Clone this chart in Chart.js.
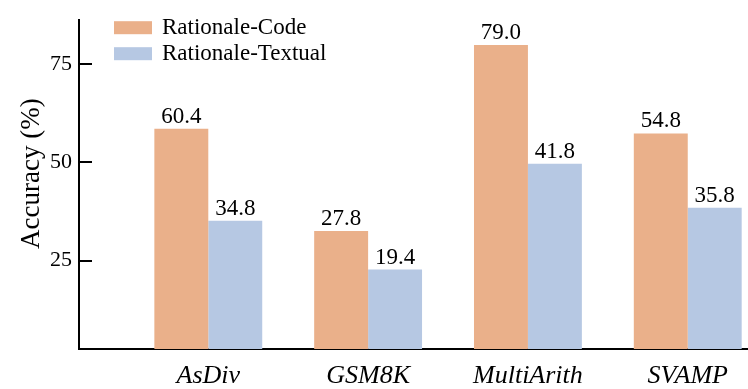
<!DOCTYPE html>
<html>
<head>
<meta charset="utf-8">
<script src="https://cdn.jsdelivr.net/npm/chart.js@4.4.1/dist/chart.umd.min.js"></script>
<style>
  html, body { margin: 0; padding: 0; background: #fff; overflow: hidden; }
  #wrap { width: 748px; height: 389px; }
  .preload { position: absolute; left: -999px; top: 0; font-family: "Liberation Serif"; }
</style>
</head>
<body>
<span class="preload">Aa</span><span class="preload" style="font-style:italic">Aa</span>
<div id="wrap"><canvas id="chart" width="748" height="389"></canvas></div>
<script>
// data
const categories = ['AsDiv', 'GSM8K', 'MultiArith', 'SVAMP'];
const seriesNames = ['Rationale-Code', 'Rationale-Textual'];
// bar heights as they are drawn
const codeValues = [58.5, 32.5, 79.8, 57.3];
const textualValues = [35.1, 22.7, 49.6, 38.4];
// numbers printed above the bars
const codeLabels = ['60.4', '27.8', '79.0', '54.8'];
const textualLabels = ['34.8', '19.4', '41.8', '35.8'];
const yTicks = [25, 50, 75];
const yTitle = 'Accuracy (%)';

const colors = ['#EAB08A', '#B6C8E3'];
const serif = "'Liberation Serif', 'DejaVu Serif', serif";

// labels on top of bars
const barLabels = {
    id: 'barLabels',
    afterDatasetsDraw(chart) {
        const ctx = chart.ctx;
        const texts = [codeLabels, textualLabels];
        ctx.save();
        ctx.font = '23px ' + serif;
        ctx.fillStyle = '#000';
        ctx.textAlign = 'center';
        ctx.textBaseline = 'alphabetic';
        chart.data.datasets.forEach(function(ds, d) {
            chart.getDatasetMeta(d).data.forEach(function(bar, i) {
                ctx.fillText(texts[d][i], bar.x, bar.y - 6);
            });
        });
        ctx.restore();
    }
};

// inward y ticks, y title and legend in the top left corner
const extras = {
    id: 'extras',
    afterDraw(chart) {
        const ctx = chart.ctx;
        const area = chart.chartArea;
        const y = chart.scales.y;
        ctx.save();
        ctx.strokeStyle = '#000';
        ctx.lineWidth = 2;
        yTicks.forEach(function(t) {
            const py = Math.round(y.getPixelForValue(t));
            ctx.beginPath();
            ctx.moveTo(area.left, py);
            ctx.lineTo(area.left + 13, py);
            ctx.stroke();
        });

        // axis title, a bit above the middle like the original
        ctx.save();
        ctx.translate(area.left - 47, (area.top + area.bottom) / 2 - 11);
        ctx.rotate(-Math.PI / 2);
        ctx.font = '27px ' + serif;
        ctx.fillStyle = '#000';
        ctx.textAlign = 'center';
        ctx.textBaseline = 'middle';
        ctx.fillText(yTitle, 0, 0);
        ctx.restore();

        ctx.font = '23px ' + serif;
        ctx.textBaseline = 'middle';
        ctx.textAlign = 'left';
        seriesNames.forEach(function(name, k) {
            const top = area.top + 1 + k * 26;
            ctx.fillStyle = colors[k];
            ctx.fillRect(area.left + 35, top, 38, 13);
            ctx.fillStyle = '#000';
            ctx.fillText(name, area.left + 83, top + 7);
        });
        ctx.restore();
    }
};

function drawChart() {
    Chart.defaults.color = '#000';
    Chart.defaults.font.family = serif;

    const ctx = document.getElementById('chart').getContext('2d');
    new Chart(ctx, {
        type: 'bar',
        data: {
            datasets: [{
                label: seriesNames[0],
                data: categories.map((c, i) => ({ x: i, y: codeValues[i] })),
                backgroundColor: colors[0],
                borderWidth: 0
            }, {
                label: seriesNames[1],
                data: categories.map((c, i) => ({ x: i, y: textualValues[i] })),
                backgroundColor: colors[1],
                borderWidth: 0
            }]
        },
        options: {
            responsive: false,
            animation: false,
            devicePixelRatio: 1,
            categoryPercentage: 0.675,
            barPercentage: 1,
            layout: { padding: { top: 12, right: 0, left: 0, bottom: 0 } },
            plugins: {
                legend: { display: false },
                tooltip: { enabled: false }
            },
            scales: {
                x: {
                    type: 'linear',
                    offset: false,
                    min: -0.809,
                    max: 3.377,
                    afterBuildTicks: function(scale) {
                        scale.ticks = categories.map((c, i) => ({ value: i }));
                    },
                    afterFit: function(scale) { scale.height = 40; },
                    grid: { drawOnChartArea: false, drawTicks: false },
                    border: { display: true, color: '#000', width: 2 },
                    ticks: {
                        padding: 12,
                        autoSkip: false,
                        maxRotation: 0,
                        font: { size: 26, style: 'italic', family: serif },
                        callback: function(v) { return categories[v]; }
                    }
                },
                y: {
                    min: 2.5,
                    max: 86.1,
                    afterBuildTicks: function(scale) {
                        scale.ticks = yTicks.map(v => ({ value: v }));
                    },
                    afterFit: function(scale) { scale.width = 79; },
                    grid: { drawOnChartArea: false, drawTicks: false },
                    border: { display: true, color: '#000', width: 2 },
                    ticks: {
                        padding: 7,
                        font: { size: 22, family: serif }
                    }
                }
            }
        },
        plugins: [barLabels, extras]
    });
}

Promise.all([
    document.fonts.load("22px 'Liberation Serif'"),
    document.fonts.load("italic 26px 'Liberation Serif'")
]).then(drawChart, drawChart);
</script>
</body>
</html>
